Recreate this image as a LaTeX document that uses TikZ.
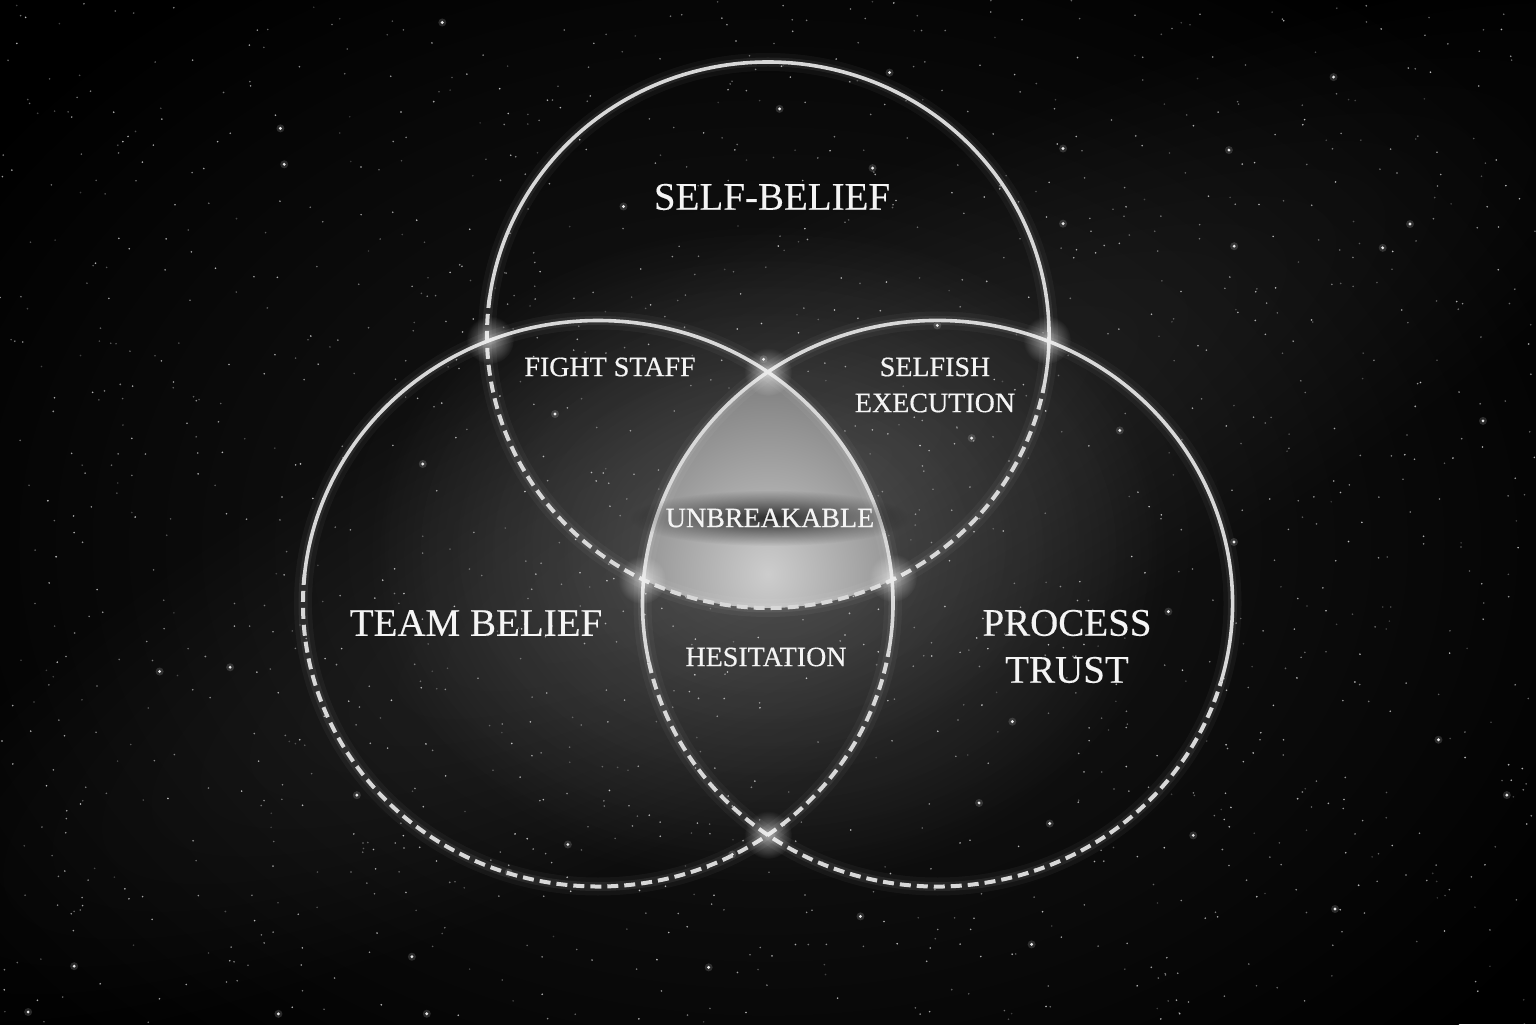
\documentclass[tikz,border=0pt]{standalone}
\usepackage{fontspec}
\setmainfont{Liberation Serif}
\usetikzlibrary{calc}
\definecolor{linec}{HTML}{D8D8D8}
\definecolor{txtc}{HTML}{F4F4F4}
\definecolor{neb}{RGB}{26,26,26}
\definecolor{band}{RGB}{20,20,20}
\definecolor{halo}{RGB}{50,50,50}
\definecolor{lensin}{RGB}{205,205,205}
\definecolor{lensout}{RGB}{75,75,75}
\definecolor{spark}{RGB}{130,130,130}
\definecolor{shadowc}{RGB}{60,60,60}
\begin{document}
\begin{tikzpicture}[x=0.5pt,y=0.5pt,
  solidarc/.style={draw=linec, line width=1.8pt},
  dasharc/.style={draw=linec, line width=2pt, dash pattern=on 5.5pt off 3pt},
  biglabel/.style={text=txtc, font=\fontsize{19.5}{23.5}\selectfont\addfontfeature{FakeBold=0.3}, align=center, inner sep=0pt},
  smalllabel/.style={text=txtc, font=\fontsize{14}{18}\selectfont\addfontfeature{FakeBold=0.5}, align=center, inner sep=0pt},
]
% background
\fill[black] (0,0) rectangle (1536,1024);
\useasboundingbox (0,0) rectangle (1536,1024);

% nebula glow
\begin{scope}[blend mode=screen]
  \shade[inner color=neb, outer color=black] (768,480) ellipse [x radius=950, y radius=700];
\end{scope}
\begin{scope}[blend mode=screen, transform canvas={rotate around={27:(768,512)}}]
  \shade[inner color=band, outer color=black] (768,512) ellipse [x radius=1100, y radius=260];
\end{scope}

% stars
\pgfmathsetseed{12345}
\foreach \i in {1,...,1500}{
  \pgfmathsetmacro{\sx}{rnd*1536}
  \pgfmathsetmacro{\sy}{rnd*1024}
  \pgfmathsetmacro{\so}{0.2+0.55*rnd}
  \fill[white, opacity=\so] (\sx,\sy) circle (0.9);
}
\foreach \i in {1,...,45}{
  \pgfmathsetmacro{\sx}{8+rnd*1520}
  \pgfmathsetmacro{\sy}{8+rnd*1008}
  \fill[white, opacity=0.15] (\sx,\sy) circle (4);
  \fill[white, opacity=0.9] (\sx,\sy) circle (1.6);
}

% centres
\coordinate (cT) at (768,689);
\coordinate (cL) at (598,420.5);
\coordinate (cR) at (937.5,420.5);

% halo round the centre
\begin{scope}[blend mode=screen]
  \shade[inner color=halo, outer color=black] (768,470) ellipse [x radius=400, y radius=330];
\end{scope}
% central lens glow
\begin{scope}
  \clip (cT) ellipse [x radius=281, y radius=273];
  \clip (cL) ellipse [x radius=295, y radius=283];
  \clip (cR) ellipse [x radius=295, y radius=283];
  \shade[inner color=lensin, outer color=lensout] (768,450) ellipse [x radius=300, y radius=330];
\end{scope}

% circle glows
\foreach \c/\a/\b in {cT/281/273, cL/295/283, cR/295/283}{
  \draw[white, opacity=0.04, line width=9pt] (\c) ellipse [x radius=\a, y radius=\b];
  \draw[white, opacity=0.07, line width=4.5pt] (\c) ellipse [x radius=\a, y radius=\b];
}

% circles: solid upper arcs, dashed lower arcs
\draw[solidarc] ($(cT)+(-11:281 and 273)$) arc[start angle=-11, end angle=172, x radius=281, y radius=273];
\draw[dasharc]  ($(cT)+(172:281 and 273)$) arc[start angle=172, end angle=349, x radius=281, y radius=273];
\draw[solidarc] ($(cL)+(-9.5:295 and 283)$) arc[start angle=-9.5, end angle=174, x radius=295, y radius=283];
\draw[dasharc]  ($(cL)+(174:295 and 283)$) arc[start angle=174, end angle=350.5, x radius=295, y radius=283];
\draw[solidarc] ($(cR)+(-16:295 and 283)$) arc[start angle=-16, end angle=192, x radius=295, y radius=283];
\draw[dasharc]  ($(cR)+(192:295 and 283)$) arc[start angle=192, end angle=344, x radius=295, y radius=283];

% sparkles at crossings
\begin{scope}[blend mode=screen]
\foreach \p in {(490,684),(1047,684),(768,652),(642,444),(893,446),(768,189)}
  \shade[inner color=spark, outer color=black] \p circle (24);
\end{scope}

% shadow behind UNBREAKABLE
\begin{scope}[blend mode=multiply]
  \shade[inner color=shadowc, outer color=white] (770,506) ellipse [x radius=140, y radius=28];
\end{scope}

% labels
\node[biglabel] (self) at (772,827) {SELF-BELIEF};
\node[biglabel] (team) at (476,401) {TEAM BELIEF};
\node[biglabel] (proc) at (1067,377.5) {PROCESS\\TRUST};
\node[smalllabel] (fight) at (610,657) {FIGHT STAFF};
\node[smalllabel] (selfish) at (935,639) {SELFISH\\EXECUTION};
\node[smalllabel] (unbr) at (770,506) {UNBREAKABLE};
\node[smalllabel] (hes) at (766,367) {HESITATION};
\end{tikzpicture}
\end{document}
